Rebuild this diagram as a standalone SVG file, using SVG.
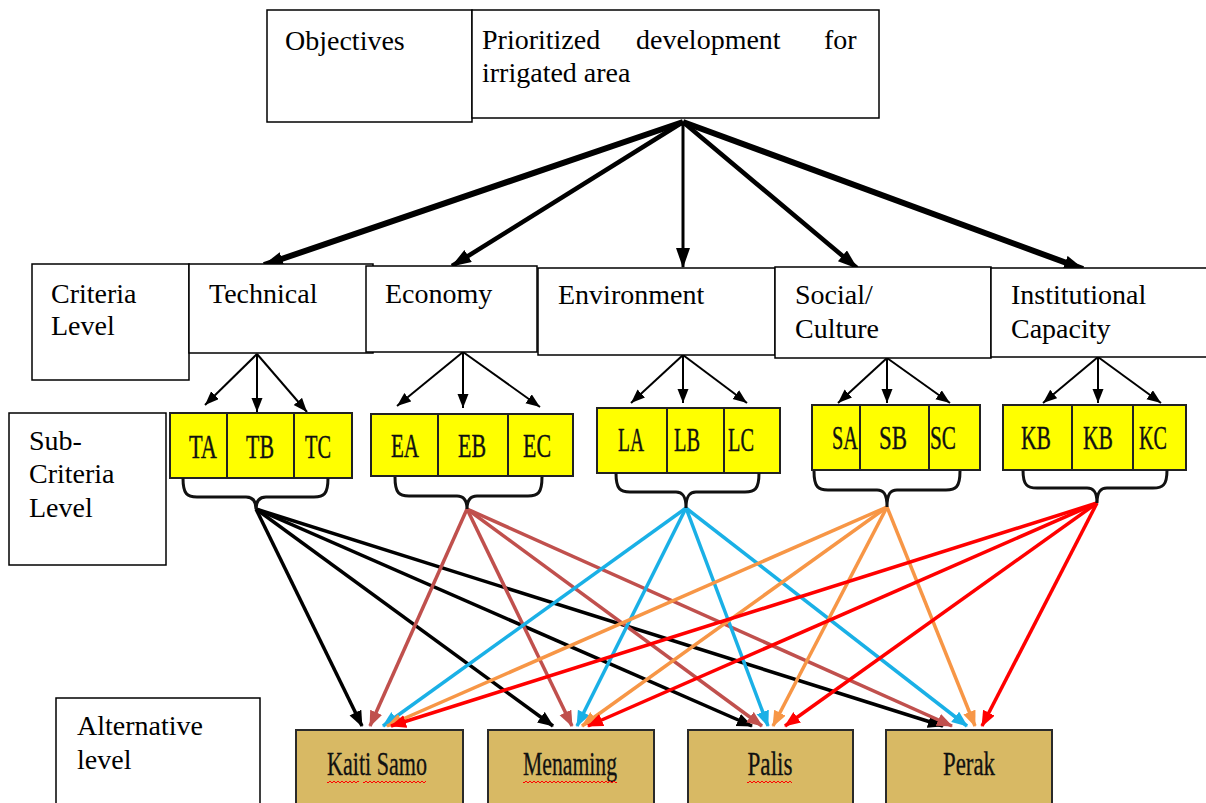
<svg xmlns="http://www.w3.org/2000/svg" width="1206" height="803" viewBox="0 0 1206 803">
<style>
.box{fill:#fff;stroke:#000;stroke-width:1.5}
.lbl{font-family:"Liberation Serif","Times New Roman",serif;font-size:28px;fill:#000}
.yel{fill:#ffff00;stroke:#222;stroke-width:2}
.cell{stroke:#222;stroke-width:2}
.sub{font-family:"Liberation Serif","Times New Roman",serif;font-size:34px;fill:#111;stroke:#111;stroke-width:0.4;text-anchor:middle}
.alt{fill:#d8b964;stroke:#2a2a2a;stroke-width:2}
.altt{font-family:"Liberation Serif","Times New Roman",serif;font-size:34px;fill:#111;stroke:#111;stroke-width:0.3;text-anchor:middle}
.brace{fill:none;stroke:#111;stroke-width:3}
.top{stroke:#000;fill:none;marker-end:url(#mTop)}
.sm{stroke:#000;stroke-width:2;fill:none;marker-end:url(#mSm)}
.c{fill:none;stroke-width:3.5}
.k{stroke:#000;marker-end:url(#mK)}
.e{stroke:#c0504d;marker-end:url(#mE)}
.l{stroke:#1ab0e6;marker-end:url(#mL)}
.s{stroke:#f79646;marker-end:url(#mS)}
.r{stroke:#ff0000;marker-end:url(#mR)}
</style>
<defs>
<marker id="mTop" markerUnits="userSpaceOnUse" markerWidth="22" markerHeight="16" refX="19" refY="7" orient="auto"><path d="M0,0 L20,7 L0,14 z" fill="#000"/></marker>
<marker id="mSm" markerUnits="userSpaceOnUse" markerWidth="16" markerHeight="12" refX="14" refY="5.5" orient="auto"><path d="M0,0 L14,5.5 L0,11 z" fill="#000"/></marker>
<marker id="mK" markerUnits="userSpaceOnUse" markerWidth="18" markerHeight="14" refX="15" refY="6.5" orient="auto"><path d="M0,0 L16,6.5 L0,13 z" fill="#000"/></marker>
<marker id="mE" markerUnits="userSpaceOnUse" markerWidth="18" markerHeight="14" refX="15" refY="6.5" orient="auto"><path d="M0,0 L16,6.5 L0,13 z" fill="#c0504d"/></marker>
<marker id="mL" markerUnits="userSpaceOnUse" markerWidth="18" markerHeight="14" refX="15" refY="6.5" orient="auto"><path d="M0,0 L16,6.5 L0,13 z" fill="#1ab0e6"/></marker>
<marker id="mS" markerUnits="userSpaceOnUse" markerWidth="18" markerHeight="14" refX="15" refY="6.5" orient="auto"><path d="M0,0 L16,6.5 L0,13 z" fill="#f79646"/></marker>
<marker id="mR" markerUnits="userSpaceOnUse" markerWidth="18" markerHeight="14" refX="15" refY="6.5" orient="auto"><path d="M0,0 L16,6.5 L0,13 z" fill="#ff0000"/></marker>
<pattern id="wavy" width="4" height="4" patternUnits="userSpaceOnUse"><path d="M0,3 L2,1 L4,3" stroke="#f00" stroke-width="1" fill="none"/></pattern>
</defs>
<rect width="1206" height="803" fill="#fff"/>

<g id="connectors">
<line class="top" stroke-width="6" x1="683" y1="122" x2="264" y2="265"/>
<line class="top" stroke-width="4.5" x1="683" y1="122" x2="452" y2="266"/>
<line class="top" stroke-width="3" x1="683" y1="122" x2="683" y2="267"/>
<line class="top" stroke-width="4.5" x1="683" y1="122" x2="857" y2="268"/>
<line class="top" stroke-width="6" x1="683" y1="122" x2="1083" y2="269"/>

<line class="sm" x1="257" y1="354" x2="205" y2="405"/>
<line class="sm" x1="257" y1="354" x2="257" y2="412"/>
<line class="sm" x1="257" y1="354" x2="307" y2="412"/>
<line class="sm" x1="463" y1="352" x2="397" y2="406"/>
<line class="sm" x1="463" y1="352" x2="463" y2="408"/>
<line class="sm" x1="463" y1="352" x2="540" y2="407"/>
<line class="sm" x1="683" y1="355" x2="631" y2="403"/>
<line class="sm" x1="683" y1="355" x2="683" y2="403"/>
<line class="sm" x1="683" y1="355" x2="747" y2="403"/>
<line class="sm" x1="887" y1="358" x2="838" y2="403"/>
<line class="sm" x1="887" y1="358" x2="887" y2="403"/>
<line class="sm" x1="887" y1="358" x2="950" y2="403"/>
<line class="sm" x1="1098" y1="357" x2="1043" y2="403"/>
<line class="sm" x1="1098" y1="357" x2="1098" y2="403"/>
<line class="sm" x1="1098" y1="357" x2="1161" y2="403"/>

<line class="c k" x1="256" y1="509" x2="362" y2="726"/>
<line class="c k" x1="256" y1="509" x2="553" y2="726"/>
<line class="c k" x1="256" y1="509" x2="752" y2="726"/>
<line class="c k" x1="256" y1="509" x2="943" y2="726"/>
<line class="c e" x1="467" y1="509" x2="370" y2="726"/>
<line class="c e" x1="467" y1="509" x2="572" y2="726"/>
<line class="c e" x1="467" y1="509" x2="762" y2="726"/>
<line class="c e" x1="467" y1="509" x2="952" y2="726"/>
<line class="c l" x1="686" y1="508" x2="383" y2="726"/>
<line class="c l" x1="686" y1="508" x2="577" y2="726"/>
<line class="c l" x1="686" y1="508" x2="768" y2="726"/>
<line class="c l" x1="686" y1="508" x2="967" y2="726"/>
<line class="c s" x1="887" y1="507" x2="387" y2="726"/>
<line class="c s" x1="887" y1="507" x2="582" y2="726"/>
<line class="c s" x1="887" y1="507" x2="773" y2="726"/>
<line class="c s" x1="887" y1="507" x2="975" y2="726"/>
<line class="c r" x1="1097" y1="503" x2="391" y2="726"/>
<line class="c r" x1="1097" y1="503" x2="588" y2="726"/>
<line class="c r" x1="1097" y1="503" x2="785" y2="726"/>
<line class="c r" x1="1097" y1="503" x2="982" y2="726"/>
</g>

<g id="objectives-label">
<rect class="box" x="267" y="10" width="205" height="112"/>
<text class="lbl" x="285" y="50">Objectives</text>
</g>
<g id="goal">
<rect class="box" x="472" y="10" width="407" height="108"/>
<text class="lbl" y="49"><tspan x="482">Prioritized</tspan><tspan x="636">development</tspan><tspan x="824">for</tspan></text>
<text class="lbl" x="482" y="82">irrigated area</text>
</g>

<g id="criteria-label">
<rect class="box" x="32" y="264" width="157" height="116"/>
<text class="lbl" x="51" y="303">Criteria</text>
<text class="lbl" x="51" y="335">Level</text>
</g>
<g id="technical">
<rect class="box" x="189" y="264" width="184" height="89"/>
<text class="lbl" x="209" y="303">Technical</text>
</g>
<g id="economy">
<rect class="box" x="366" y="266" width="171" height="86"/>
<text class="lbl" x="385" y="303">Economy</text>
</g>
<g id="environment">
<rect class="box" x="538" y="268" width="237" height="87"/>
<text class="lbl" x="558" y="304">Environment</text>
</g>
<g id="social">
<rect class="box" x="775" y="267" width="216" height="91"/>
<text class="lbl" x="795" y="304">Social/</text>
<text class="lbl" x="795" y="338">Culture</text>
</g>
<g id="institutional">
<rect class="box" x="991" y="268" width="220" height="89"/>
<text class="lbl" x="1011" y="304">Institutional</text>
<text class="lbl" x="1011" y="338">Capacity</text>
</g>

<g id="subcriteria-label">
<rect class="box" x="9" y="413" width="157" height="152"/>
<text class="lbl" x="29" y="450">Sub-</text>
<text class="lbl" x="29" y="483">Criteria</text>
<text class="lbl" x="29" y="517">Level</text>
</g>

<g id="sub-technical">
<rect class="yel" x="170" y="413" width="182" height="65"/>
<line class="cell" x1="227" y1="413" x2="227" y2="478"/>
<line class="cell" x1="294" y1="413" x2="294" y2="478"/>
<text class="sub" x="203" y="458" textLength="28" lengthAdjust="spacingAndGlyphs">TA</text>
<text class="sub" x="260" y="458" textLength="28" lengthAdjust="spacingAndGlyphs">TB</text>
<text class="sub" x="318" y="458" textLength="26" lengthAdjust="spacingAndGlyphs">TC</text>
<path class="brace" d="M183,478 C183,494 187,497 197,497 L246,497 C252,497 256,500 256,509 C256,500 260,497 266,497 L314,497 C324,497 328,494 328,478"/>
</g>
<g id="sub-economy">
<rect class="yel" x="371" y="414" width="202" height="62"/>
<line class="cell" x1="438" y1="414" x2="438" y2="476"/>
<line class="cell" x1="508" y1="414" x2="508" y2="476"/>
<text class="sub" x="405" y="457" textLength="28" lengthAdjust="spacingAndGlyphs">EA</text>
<text class="sub" x="472" y="457" textLength="28" lengthAdjust="spacingAndGlyphs">EB</text>
<text class="sub" x="537" y="457" textLength="28" lengthAdjust="spacingAndGlyphs">EC</text>
<path class="brace" d="M395,477 C395,493 399,496 409,496 L457,496 C463,496 467,499 467,509 C467,499 471,496 477,496 L528,496 C538,496 542,493 542,477"/>
</g>
<g id="sub-environment">
<rect class="yel" x="597" y="408" width="183" height="65"/>
<line class="cell" x1="667" y1="408" x2="667" y2="473"/>
<line class="cell" x1="724" y1="408" x2="724" y2="473"/>
<text class="sub" x="631" y="451" textLength="26" lengthAdjust="spacingAndGlyphs">LA</text>
<text class="sub" x="687" y="451" textLength="26" lengthAdjust="spacingAndGlyphs">LB</text>
<text class="sub" x="741" y="451" textLength="26" lengthAdjust="spacingAndGlyphs">LC</text>
<path class="brace" d="M616,473 C616,489 620,492 630,492 L676,492 C682,492 686,495 686,508 C686,495 690,492 696,492 L745,492 C755,492 759,489 759,473"/>
</g>
<g id="sub-social">
<rect class="yel" x="812" y="405" width="168" height="65"/>
<line class="cell" x1="860" y1="405" x2="860" y2="470"/>
<line class="cell" x1="929" y1="405" x2="929" y2="470"/>
<text class="sub" x="845" y="449" textLength="26" lengthAdjust="spacingAndGlyphs">SA</text>
<text class="sub" x="893" y="449" textLength="28" lengthAdjust="spacingAndGlyphs">SB</text>
<text class="sub" x="943" y="449" textLength="26" lengthAdjust="spacingAndGlyphs">SC</text>
<path class="brace" d="M814,471 C814,487 818,490 828,490 L877,490 C883,490 887,493 887,507 C887,493 891,490 897,490 L946,490 C956,490 960,487 960,471"/>
</g>
<g id="sub-institutional">
<rect class="yel" x="1003" y="405" width="183" height="65"/>
<line class="cell" x1="1072" y1="405" x2="1072" y2="470"/>
<line class="cell" x1="1133" y1="405" x2="1133" y2="470"/>
<text class="sub" x="1036" y="449" textLength="30" lengthAdjust="spacingAndGlyphs">KB</text>
<text class="sub" x="1098" y="449" textLength="30" lengthAdjust="spacingAndGlyphs">KB</text>
<text class="sub" x="1153" y="449" textLength="28" lengthAdjust="spacingAndGlyphs">KC</text>
<path class="brace" d="M1023,470 C1023,485 1027,488 1037,488 L1087,488 C1093,488 1097,491 1097,503 C1097,491 1101,488 1107,488 L1153,488 C1163,488 1167,485 1167,470"/>
</g>

<g id="alternative-label">
<rect class="box" x="56" y="698" width="204" height="110"/>
<text class="lbl" x="77" y="735">Alternative</text>
<text class="lbl" x="77" y="769">level</text>
</g>

<g id="alt-kaiti-samo">
<rect class="alt" x="296" y="730" width="167" height="80"/>
<text class="altt" x="377" y="775" textLength="100" lengthAdjust="spacingAndGlyphs">Kaiti Samo</text>
<rect x="327" y="780" width="32" height="4" fill="url(#wavy)"/>
<rect x="363" y="780" width="63" height="4" fill="url(#wavy)"/>
</g>
<g id="alt-menaming">
<rect class="alt" x="488" y="730" width="166" height="80"/>
<text class="altt" x="570" y="775" textLength="94" lengthAdjust="spacingAndGlyphs">Menaming</text>
<rect x="523" y="780" width="94" height="4" fill="url(#wavy)"/>
</g>
<g id="alt-palis">
<rect class="alt" x="688" y="730" width="165" height="80"/>
<text class="altt" x="770" y="775" textLength="45" lengthAdjust="spacingAndGlyphs">Palis</text>
<rect x="747" y="780" width="45" height="4" fill="url(#wavy)"/>
</g>
<g id="alt-perak">
<rect class="alt" x="886" y="730" width="166" height="80"/>
<text class="altt" x="969" y="775" textLength="52" lengthAdjust="spacingAndGlyphs">Perak</text>
</g>
</svg>
